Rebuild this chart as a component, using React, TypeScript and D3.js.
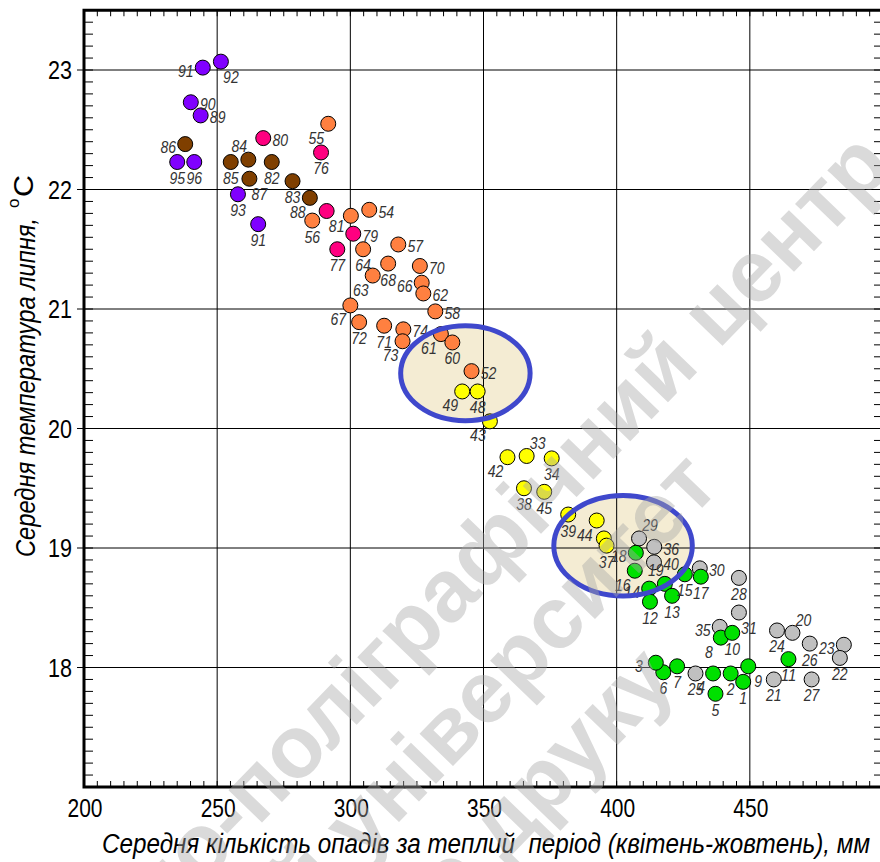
import React from "react";
import * as d3 from "d3";

const width = 880;
const height = 862;

// [label, precipitation mm, temperature °C, label side]
const grayPts: [string, number, number, string][] = [
  ["29", 408.4, 19.08, "tr"], ["36", 414.1, 19.01, "r"], ["40", 414.0, 18.88, "r"],
  ["30", 431.2, 18.83, "r"], ["28", 445.9, 18.75, "b"], ["31", 445.9, 18.46, "br"],
  ["35", 438.7, 18.34, "l"], ["24", 460.2, 18.31, "b"], ["20", 466.0, 18.29, "tr"],
  ["26", 472.5, 18.2, "b"], ["23", 485.3, 18.19, "l"], ["22", 483.8, 18.08, "b"],
  ["21", 459.0, 17.9, "b"], ["27", 473.2, 17.9, "b"], ["25", 429.6, 17.95, "b"],
];
const greenPts: [string, number, number, string][] = [
  ["18", 407.2, 18.96, "l"], ["16", 406.8, 18.81, "bl"], ["19", 418.1, 18.7, "tl"],
  ["14", 412.2, 18.66, "l"], ["12", 412.5, 18.55, "b"], ["13", 420.8, 18.6, "b"],
  ["15", 425.6, 18.78, "b"], ["17", 431.6, 18.76, "b"], ["8", 439.1, 18.25, "bl"],
  ["10", 443.4, 18.29, "b"], ["11", 464.5, 18.07, "b"], ["9", 449.4, 18.01, "br"],
  ["2", 442.8, 17.95, "b"], ["1", 447.5, 17.88, "b"], ["4", 436.2, 17.95, "bl"],
  ["5", 437.1, 17.78, "b"], ["7", 422.7, 18.01, "b"], ["6", 417.5, 17.96, "b"],
  ["3", 414.7, 18.04, "l"],
];
const yellowPts: [string, number, number, string][] = [
  ["49", 342.0, 20.31, "bl"], ["48", 347.8, 20.31, "b"], ["43", 352.4, 20.06, "bl"],
  ["42", 359.0, 19.76, "bl"], ["33", 366.2, 19.77, "tr"], ["34", 375.6, 19.75, "b"],
  ["38", 365.2, 19.5, "b"], ["45", 372.8, 19.47, "b"], ["39", 381.8, 19.28, "b"],
  ["44", 392.5, 19.23, "bl"], ["", 395.2, 19.08, ""], ["37", 396.2, 19.02, "b"],
];
const orangePts: [string, number, number, string][] = [
  ["55", 291.7, 22.55, "bl"], ["56", 285.7, 21.74, "b"], ["54", 307.1, 21.83, "r"],
  ["", 300.2, 21.78, ""], ["64", 304.8, 21.5, "b"], ["57", 318.0, 21.54, "r"],
  ["68", 314.2, 21.38, "b"], ["70", 326.1, 21.36, "r"], ["63", 308.4, 21.28, "bl"],
  ["66", 326.8, 21.22, "l"], ["62", 327.4, 21.13, "r"], ["67", 300.0, 21.03, "bl"],
  ["58", 331.9, 20.98, "r"], ["72", 303.3, 20.89, "b"], ["71", 312.7, 20.86, "b"],
  ["74", 319.9, 20.83, "r"], ["73", 319.6, 20.73, "bl"], ["61", 334.0, 20.79, "bl"],
  ["60", 338.3, 20.72, "b"], ["52", 345.5, 20.48, "r"],
];
const pinkPts: [string, number, number, string][] = [
  ["80", 267.3, 22.43, "r"], ["76", 289.0, 22.31, "b"], ["81", 291.1, 21.82, "br"],
  ["79", 301.1, 21.63, "r"], ["77", 295.1, 21.5, "b"],
];
const brownPts: [string, number, number, string][] = [
  ["86", 238.0, 22.38, "l"], ["85", 255.1, 22.23, "b"], ["84", 261.7, 22.25, "tl"],
  ["82", 270.5, 22.23, "b"], ["87", 262.1, 22.09, "br"], ["83", 278.3, 22.07, "b"],
  ["88", 284.8, 21.93, "bl"],
];
const purplePts: [string, number, number, string][] = [
  ["91", 244.6, 23.02, "l"], ["92", 251.4, 23.07, "br"], ["90", 240.1, 22.73, "r"],
  ["89", 243.8, 22.62, "r"], ["95", 235.0, 22.23, "b"], ["96", 241.4, 22.23, "b"],
  ["93", 257.8, 21.96, "b"], ["91", 265.4, 21.71, "b"],
];

const groups = [
  { pts: grayPts, color: "#c0c0c0" },
  { pts: greenPts, color: "#00e000" },
  { pts: yellowPts, color: "#ffff00" },
  { pts: orangePts, color: "#ff8040" },
  { pts: pinkPts, color: "#ff0080" },
  { pts: brownPts, color: "#7f3f00" },
  { pts: purplePts, color: "#8000ff" },
];

// highlighted regions: [cx mm, cy °C, rx mm, ry °C]
const ellipses = [
  [343.2, 20.462, 24.3, 0.397],
  [402.4, 19.019, 26.0, 0.42],
];

const xTicks = [200, 250, 300, 350, 400, 450];
const yTicks = [18, 19, 20, 21, 22, 23];

const xTitle = "Середня кількість опадів за теплий  період (квітень-жовтень), мм";
const yTitle = "Середня температура липня,";
const watermark = ["Видавничо-поліграфічний центр", "Київський університет", "до друку"];

const offsets: Record<string, [number, number]> = {
  b: [0, 16], t: [0, -15], l: [-17, 3], r: [17, 2],
  bl: [-12, 14], br: [10, 15], tl: [-9, -14], tr: [11, -13],
};

const sans = "'Liberation Sans', Arial, sans-serif";

export default function App() {
  const x = d3.scaleLinear().domain([200, 500]).range([84, 883]);
  const y = d3.scaleLinear().domain([17, 23.5]).range([787, 10.25]);
  const [x0, x1] = x.range();
  const [y0, y1] = y.range();

  const xMinor = d3.range(200, 500.01, 5);
  const yMinor = d3.range(170, 235.1, 1).map((d) => d / 10);

  return (
    <svg width={width} height={height} style={{ display: "block", background: "#fff" }}>
      <style>{`body{margin:0}`}</style>

      {/* ellipse fills */}
      {ellipses.map(([cx, cy, rx, ry], i) => (
        <ellipse key={"ef" + i} cx={x(cx)} cy={y(cy)} rx={x(cx + rx) - x(cx)} ry={y(cy) - y(cy + ry)} fill="#f4ecd3" />
      ))}

      {/* grid */}
      {xTicks.filter((t) => t > 200).map((t) => (
        <line key={"gx" + t} x1={x(t)} x2={x(t)} y1={y0} y2={y1} stroke="#000" strokeWidth={1} />
      ))}
      {yTicks.map((t) => (
        <line key={"gy" + t} x1={x0 - 7} x2={x1} y1={y(t)} y2={y(t)} stroke="#000" strokeWidth={1} />
      ))}

      {/* minor ticks */}
      {xMinor.map((t) => (
        <g key={"mx" + t}>
          <line x1={x(t)} x2={x(t)} y1={y0} y2={y0 - 6} stroke="#000" />
          <line x1={x(t)} x2={x(t)} y1={y1} y2={y1 + 6} stroke="#000" />
        </g>
      ))}
      {yMinor.map((t) => (
        <g key={"my" + t}>
          <line x1={x0} x2={x0 + 9} y1={y(t)} y2={y(t)} stroke="#000" />
          <line x1={x1} x2={x1 - 9} y1={y(t)} y2={y(t)} stroke="#000" />
        </g>
      ))}

      {/* points */}
      {groups.map((g, gi) =>
        g.pts.map(([lab, px, py], i) => (
          <circle key={`p${gi}-${i}`} cx={x(px)} cy={y(py)} r={7.5} fill={g.color} stroke="#000" strokeWidth={1} />
        ))
      )}
      {groups.map((g, gi) =>
        g.pts.map(([lab, px, py, side], i) => {
          if (!lab) return null;
          const [dx, dy] = offsets[side];
          return (
            <text key={`t${gi}-${i}`} x={x(px) + dx} y={y(py) + dy + 6} textAnchor="middle"
              fontFamily={sans} fontStyle="italic" fontSize={16} fill="#333"
              textLength={lab.length * 7.8} lengthAdjust="spacingAndGlyphs">
              {lab}
            </text>
          );
        })
      )}

      {/* ellipse outlines */}
      {ellipses.map(([cx, cy, rx, ry], i) => (
        <ellipse key={"eo" + i} cx={x(cx)} cy={y(cy)} rx={x(cx + rx) - x(cx)} ry={y(cy) - y(cy + ry)}
          fill="none" stroke="#3f48cc" strokeWidth={5} />
      ))}

      {/* frame */}
      <path d={`M${x1 + 2},${y1} H${x0} V${y0} H${x1 + 2}`} fill="none" stroke="#000" strokeWidth={3} />

      {/* tick labels */}
      {yTicks.map((t) => (
        <text key={"ly" + t} x={72} y={y(t) + 9} textAnchor="end" fontFamily={sans} fontSize={25} fill="#000"
          textLength={24} lengthAdjust="spacingAndGlyphs">
          {t}
        </text>
      ))}
      {xTicks.map((t) => (
        <text key={"lx" + t} x={x(t) + 1} y={817} textAnchor="middle" fontFamily={sans} fontSize={25} fill="#000"
          textLength={35} lengthAdjust="spacingAndGlyphs">
          {t}
        </text>
      ))}

      {/* axis titles */}
      <text x={102} y={853} fontFamily={sans} fontStyle="italic" fontSize={27} fill="#000"
        textLength={768} lengthAdjust="spacingAndGlyphs" style={{ whiteSpace: "pre" }}>
        {xTitle}
      </text>
      <g transform="translate(35,557) rotate(-90)">
        <text x={0} y={0} fontFamily={sans} fontStyle="italic" fontSize={27} fill="#000"
          textLength={339} lengthAdjust="spacingAndGlyphs">
          {yTitle}
        </text>
        <text x={349} y={-16} fontFamily={sans} fontSize={17} fill="#000">o</text>
        <text x={360} y={-2} fontFamily={sans} fontSize={28} fill="#000"
          textLength={22} lengthAdjust="spacingAndGlyphs">C</text>
      </g>

      {/* watermark */}
      <g transform="rotate(-46)" fontFamily={sans} fontWeight="bold"
        fontSize={88} fill="#a8a8a8" opacity={0.42} textAnchor="end">
        <text x={500} y={760}>{watermark[0]}</text>
        <text x={150} y={858}>{watermark[1]}</text>
        <text x={-20} y={962}>{watermark[2]}</text>
      </g>
    </svg>
  );
}
